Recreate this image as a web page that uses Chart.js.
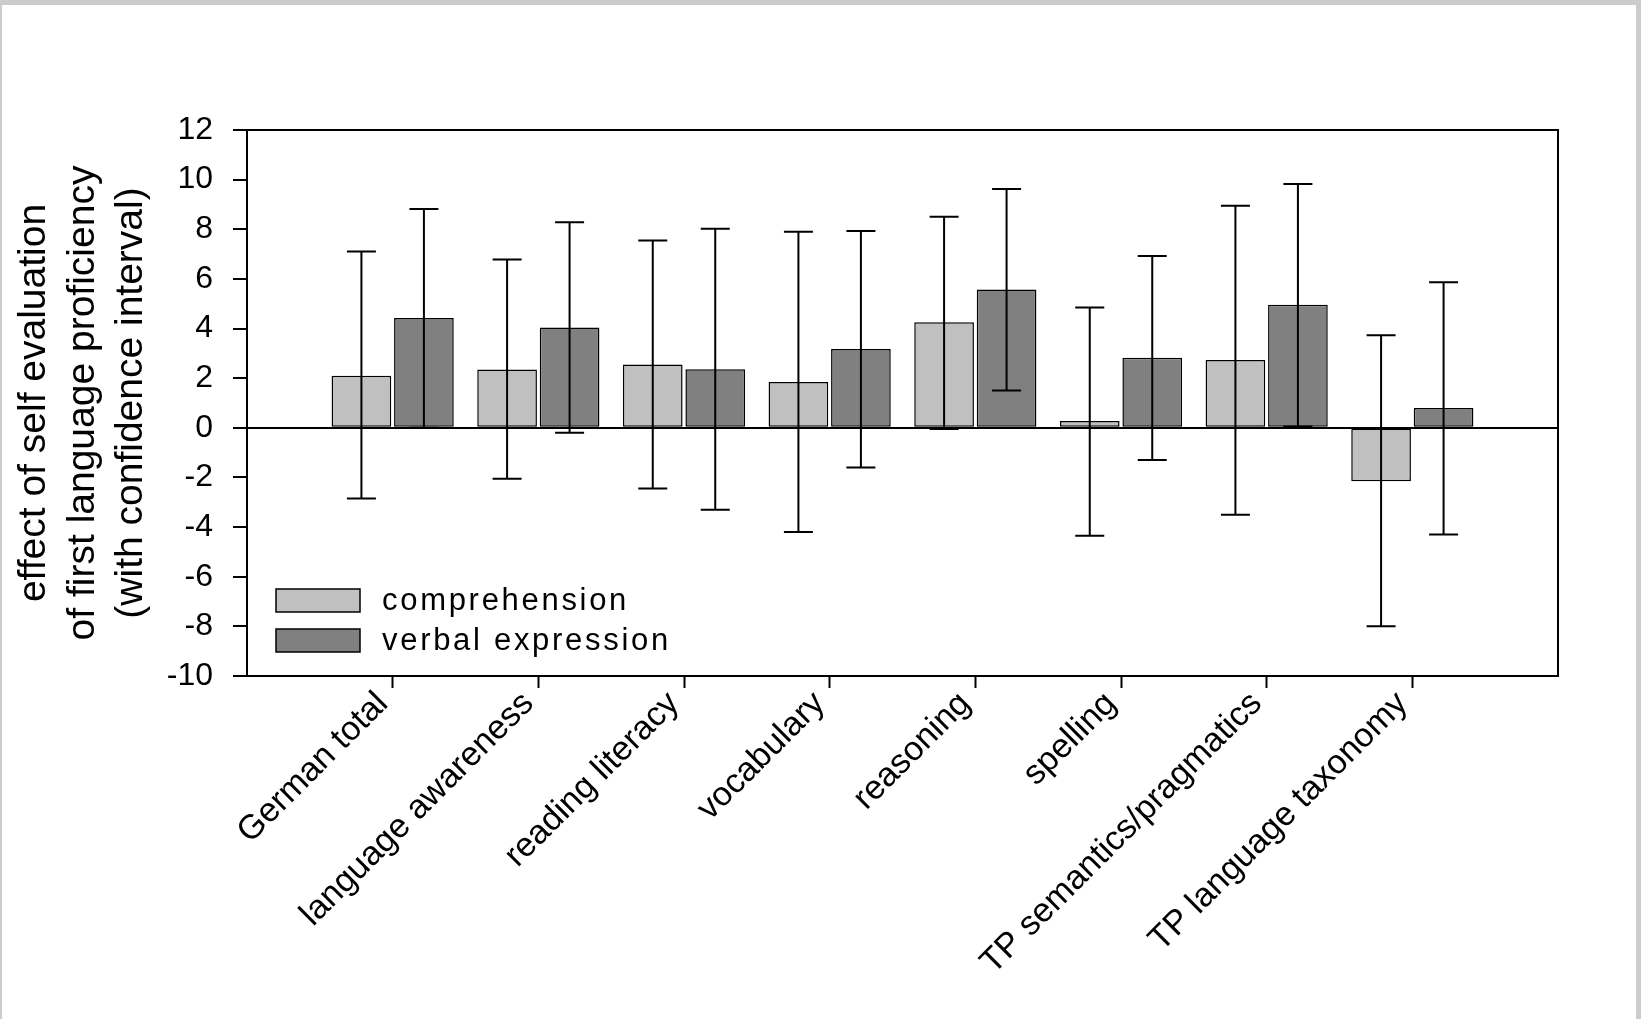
<!DOCTYPE html>
<html>
<head>
<meta charset="utf-8">
<script src="https://cdn.jsdelivr.net/npm/chart.js@4/dist/chart.umd.min.js"></script>
<style>
  html, body { margin: 0; padding: 0; background: #ffffff; overflow: hidden; }
  canvas { display: block; }
</style>
</head>
<body>
<canvas id="c" width="1641" height="1019"></canvas>
<script>
// ---- data ----
const categories = ['German total', 'language awareness', 'reading literacy', 'vocabulary', 'reasoning', 'spelling', 'TP semantics/pragmatics', 'TP language taxonomy'];
const seriesNames = ['comprehension', 'verbal expression'];
const comprehension     = [2.1, 2.35, 2.55, 1.85, 4.25, 0.27, 2.73, -2.15];
const comprehensionLow  = [-2.85, -2.05, -2.45, -4.2, -0.05, -4.35, -3.5, -8.0];
const comprehensionHigh = [7.1, 6.78, 7.55, 7.9, 8.5, 4.85, 8.95, 3.73];
const verbal            = [4.42, 4.04, 2.36, 3.18, 5.57, 2.82, 4.96, 0.8];
const verbalLow         = [0.0, -0.2, -3.3, -1.6, 1.5, -1.3, 0.05, -4.3];
const verbalHigh        = [8.82, 8.28, 8.02, 7.93, 9.62, 6.92, 9.82, 5.87];
const yTicks = [-10, -8, -6, -4, -2, 0, 2, 4, 6, 8, 10, 12];
const yTitle = ['effect of self evaluation', 'of first language proficiency', '(with confidence interval)'];

const FONT = "'Liberation Sans', Arial, Helvetica, sans-serif";
const pad = arr => [null, ...arr, null];
const labels = ['', ...categories, ''];

const errorBars = [
  { low: pad(comprehensionLow), high: pad(comprehensionHigh) },
  { low: pad(verbalLow), high: pad(verbalHigh) }
];

const pagePlugin = {
  id: 'page',
  beforeDraw(chart) {
    const ctx = chart.ctx;
    ctx.save();
    ctx.fillStyle = '#ffffff';
    ctx.fillRect(0, 0, chart.width, chart.height);
    ctx.fillStyle = '#cccccc';
    ctx.fillRect(0, 0, chart.width, 5);
    ctx.fillRect(0, 0, 2, chart.height);
    ctx.fillRect(chart.width - 5, 0, 5, chart.height);
    ctx.restore();
  }
};

const errorPlugin = {
  id: 'errbars',
  afterDatasetsDraw(chart) {
    const ctx = chart.ctx;
    const ys = chart.scales.y;
    ctx.save();
    ctx.strokeStyle = '#000';
    ctx.lineWidth = 2;
    errorBars.forEach((eb, d) => {
      const meta = chart.getDatasetMeta(d);
      meta.data.forEach((bar, i) => {
        if (eb.low[i] == null || eb.high[i] == null) return;
        const x = bar.x;
        const y1 = ys.getPixelForValue(eb.low[i]);
        const y2 = ys.getPixelForValue(eb.high[i]);
        const cap = 14.5;
        ctx.beginPath();
        ctx.moveTo(x, y1); ctx.lineTo(x, y2);
        ctx.moveTo(x - cap, y1); ctx.lineTo(x + cap, y1);
        ctx.moveTo(x - cap, y2); ctx.lineTo(x + cap, y2);
        ctx.stroke();
      });
    });
    ctx.restore();
  }
};

const framePlugin = {
  id: 'frame',
  afterDraw(chart) {
    const {left, right, top, bottom} = chart.chartArea;
    const ctx = chart.ctx;
    ctx.save();
    ctx.strokeStyle = '#000';
    ctx.lineWidth = 2;
    ctx.beginPath();
    ctx.moveTo(left - 1, top);
    ctx.lineTo(right, top);
    ctx.lineTo(right, bottom + 1);
    ctx.stroke();
    ctx.restore();
  }
};

const legendPlugin = {
  id: 'insideLegend',
  afterDraw(chart) {
    const ctx = chart.ctx;
    ctx.save();
    const boxX = 276, boxW = 84, boxH = 23;
    const rowsY = [589, 629];
    chart.data.datasets.forEach((ds, i) => {
      const y = rowsY[i];
      ctx.fillStyle = ds.backgroundColor;
      ctx.fillRect(boxX, y, boxW, boxH);
      ctx.strokeStyle = '#000';
      ctx.lineWidth = 1.5;
      ctx.strokeRect(boxX, y, boxW, boxH);
      ctx.fillStyle = '#000';
      ctx.font = '31px ' + FONT;
      try { ctx.letterSpacing = '2.7px'; } catch (e) {}
      ctx.textAlign = 'left';
      ctx.textBaseline = 'middle';
      ctx.fillText(ds.label, 382, y + boxH / 2 + 1);
    });
    ctx.restore();
  }
};

new Chart(document.getElementById('c'), {
  type: 'bar',
  data: {
    labels: labels,
    datasets: [
      {
        label: seriesNames[0],
        data: pad(comprehension),
        backgroundColor: '#c0c0c0',
        borderColor: '#000',
        borderWidth: 1.5,
        borderSkipped: false,
        categoryPercentage: 0.858,
        barPercentage: 0.955
      },
      {
        label: seriesNames[1],
        data: pad(verbal),
        backgroundColor: '#808080',
        borderColor: '#000',
        borderWidth: 1.5,
        borderSkipped: false,
        categoryPercentage: 0.858,
        barPercentage: 0.955
      }
    ]
  },
  options: {
    responsive: false,
    animation: false,
    devicePixelRatio: 1,
    layout: { padding: { left: 2, right: 83, top: 130, bottom: 0 } },
    plugins: {
      legend: { display: false },
      tooltip: { enabled: false },
      title: { display: false }
    },
    scales: {
      x: {
        type: 'category',
        offset: false,
        afterFit(scale) { scale.height = 1019 - 676; },
        border: { display: true, color: '#000', width: 2 },
        grid: {
          offset: false,
          drawOnChartArea: false,
          drawTicks: true,
          tickLength: 12,
          tickWidth: 2,
          tickColor: (c) => (labels[c.index] ? '#000' : 'rgba(0,0,0,0)')
        },
        ticks: {
          autoSkip: false,
          minRotation: 45,
          maxRotation: 45,
          padding: -4,
          labelOffset: -10,
          color: '#000',
          font: { family: FONT, size: 34 }
        }
      },
      y: {
        min: yTicks[0],
        max: yTicks[yTicks.length - 1],
        afterFit(scale) { scale.width = 247 - 2; },
        afterBuildTicks(scale) { scale.ticks = yTicks.map(v => ({ value: v })); },
        border: { display: true, color: '#000', width: 2 },
        grid: {
          drawOnChartArea: true,
          drawTicks: true,
          tickLength: 14,
          lineWidth: 2,
          tickWidth: 2,
          color: (c) => (c.tick && c.tick.value === 0 ? '#000' : 'rgba(0,0,0,0)'),
          tickColor: '#000'
        },
        ticks: {
          padding: 20,
          color: '#000',
          font: { family: FONT, size: 32 }
        },
        title: {
          display: true,
          text: yTitle,
          color: '#000',
          font: { family: FONT, size: 39, lineHeight: 1.245 },
          padding: { top: 8, bottom: 0 }
        }
      }
    }
  },
  plugins: [pagePlugin, errorPlugin, framePlugin, legendPlugin]
});
</script>
</body>
</html>
